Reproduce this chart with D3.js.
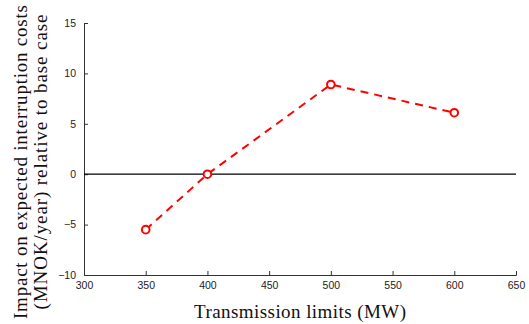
<!DOCTYPE html>
<html><head><meta charset="utf-8">
<script src="https://cdn.jsdelivr.net/npm/d3@7"></script>
<style>body{margin:0;background:#fff}svg{display:block}</style>
</head><body>
<script>
const limits = [350, 400, 500, 600];
const impact = [-5.5, 0, 8.9, 6.1];
const xTicks = [300, 350, 400, 450, 500, 550, 600, 650];
const yTicks = [-10, -5, 0, 5, 10, 15];
const xTitle = "Transmission limits (MW)";
const yTitleLines = ["Impact on expected interruption costs", "(MNOK/year) relative to base case"];

const W = 529, H = 324;
const svg = d3.select("body").append("svg").attr("width", W).attr("height", H);
const x = d3.scaleLinear().domain([300, 650]).range([84, 516]);
const y = d3.scaleLinear().domain([-10, 15]).range([275, 23]);

const tickFont = "Liberation Sans, Arial, sans-serif";
const axisCol = "#333";

const xa = svg.append("g").attr("transform", `translate(0,${y(-10)})`)
  .call(d3.axisBottom(x).tickValues(xTicks).tickSize(-4).tickPadding(7).tickFormat(d3.format("d")));
const ya = svg.append("g").attr("transform", `translate(${x(300)},0)`)
  .call(d3.axisLeft(y).tickValues(yTicks).tickSize(-4).tickPadding(8).tickFormat(d3.format("d")));
[xa, ya].forEach(a => {
  a.select(".domain").attr("stroke", axisCol).attr("stroke-width", 1);
  a.selectAll(".tick line").attr("stroke", axisCol);
  a.selectAll(".tick text").attr("fill", "#222").style("font-family", tickFont).style("font-size", "10.5px");
});

svg.append("line").attr("x1", x(300)).attr("x2", x(650)).attr("y1", y(0)).attr("y2", y(0))
  .attr("stroke", "#000").attr("stroke-width", 1.2);

const pts = limits.map((d, i) => [d, impact[i]]);
svg.append("path").datum(pts)
  .attr("d", d3.line().x(d => x(d[0])).y(d => y(d[1])))
  .attr("fill", "none").attr("stroke", "#ff0000").attr("stroke-width", 2)
  .attr("stroke-dasharray", "8,6");
svg.selectAll("circle.m").data(pts).enter().append("circle")
  .attr("cx", d => x(d[0])).attr("cy", d => y(d[1])).attr("r", 3.8)
  .attr("fill", "#fff").attr("stroke", "#ff0000").attr("stroke-width", 2);

const serif = "Liberation Serif, 'DejaVu Serif', serif";
svg.append("text").attr("x", 300).attr("y", 318).attr("text-anchor", "middle")
  .style("font-family", serif).style("font-size", "19px").attr("fill", "#111")
  .attr("textLength", 212).attr("lengthAdjust", "spacing").text(xTitle);
const yLens = [314, 295];
yTitleLines.forEach((t, i) => {
  svg.append("text").attr("transform", `translate(${27 + i * 20},162) rotate(-90)`)
    .attr("text-anchor", "middle").style("font-family", serif).style("font-size", "19px")
    .attr("fill", "#111").attr("textLength", yLens[i]).attr("lengthAdjust", "spacing").text(t);
});
</script>
</body></html>
